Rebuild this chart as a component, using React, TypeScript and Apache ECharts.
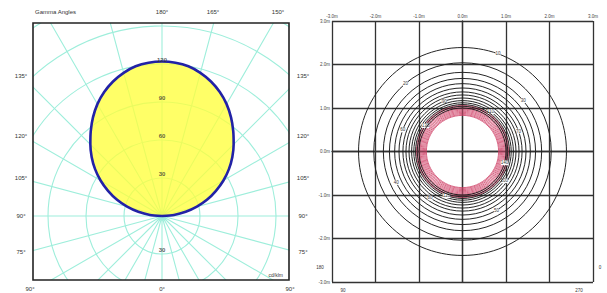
import React, { useEffect, useRef } from "react";
import * as echarts from "echarts";

// ---- Left panel: luminous intensity distribution (cd/klm) ----
const gammaAngles = [90, 95, 100, 105, 110, 115, 120, 125, 130, 135, 140, 145, 150, 155, 160, 165, 170, 175, 180];
const intensityC0 = [0, 9.5, 19, 28.5, 38, 47, 56, 64.5, 72.5, 80, 87.5, 95, 102, 108, 113, 117, 120, 121.5, 122];
const intensityC180 = [0, 9.5, 19, 28.5, 38, 47, 56, 64.5, 72.5, 80, 87.5, 95, 102, 108, 113, 117, 120, 121.5, 122];
const radiusLabelsUp = [30, 60, 90, 120];
const radiusLabelsDown = [30];
const topAngleLabels = ["180°", "165°", "150°"];
const sideAngleLabels = ["135°", "120°", "105°", "90°", "75°"];
const bottomAngleLabels = ["90°", "0°", "90°"];

// ---- Right panel: isolux contours (lux), radius in metres ----
const isoluxValues = [10, 20, 30, 40, 50, 60, 70, 80, 90, 100, 110, 120, 130, 140];
const isoluxRadii = [2.39, 2.04, 1.82, 1.68, 1.56, 1.46, 1.37, 1.3, 1.23, 1.17, 1.12, 1.08, 1.04, 1.0];
const isoluxHighValues = [150, 160, 170, 180, 190, 200, 210, 220, 230, 240];
const isoluxHighRadii = [1.06, 1.03, 1.0, 0.975, 0.95, 0.925, 0.9, 0.875, 0.85, 0.83];
const distanceTicks = [-3, -2, -1, 0, 1, 2, 3];
const planeLabels = ["180", "90", "0", "270"];

const FONT = "Liberation Sans, Arial, sans-serif";
const CYAN = "#9eeedb";

// layout-only constants
const sideLabelY = [76, 136, 178, 216, 252];
const topLabelX = [162, 213, 278];
const bottomLabelX = [30, 162, 290];
const contourLabelAngles = [70, 130, 40, 205, 300, 160, 20, 235, 110, 325, 55, 250, 145, 345];
const planeLabelPos = [[320, 267], [343, 290], [600, 267], [579, 290]];

function buildOption() {
  // polar data [radius, angle]; angle 0 = up, clockwise
  const curve: number[][] = [];
  for (let i = 0; i < gammaAngles.length; i++) curve.push([intensityC180[i], 180 + gammaAngles[i]]);
  for (let i = gammaAngles.length - 1; i >= 0; i--) curve.push([intensityC0[i], 180 - gammaAngles[i]]);

  const radLabels = [
    ...radiusLabelsUp.map((r) => [r, 0]),
    ...radiusLabelsDown.map((r) => [r, 180]),
  ];

  const contourData = [
    ...isoluxHighValues.map((v, i) => [v, isoluxHighRadii[i], 1, i]),
    ...isoluxValues.map((v, i) => [v, isoluxRadii[i], 0, i]),
  ];

  const txt = (text: string, x: number, y: number, size = 6, align = "center", z = 12) => ({
    type: "text",
    x,
    y,
    z,
    style: { text, fontSize: size, fill: "#333", align, verticalAlign: "middle", fontFamily: FONT },
  });

  const graphics: any[] = [
    { type: "rect", z: 10, shape: { x: 0, y: 0, width: 33, height: 293 }, style: { fill: "#fff" } },
    { type: "rect", z: 10, shape: { x: 0, y: 0, width: 290, height: 23 }, style: { fill: "#fff" } },
    { type: "rect", z: 10, shape: { x: 0, y: 280, width: 290, height: 13 }, style: { fill: "#fff" } },
    { type: "rect", z: 10, shape: { x: 289.5, y: 0, width: 318, height: 293 }, style: { fill: "#fff" } },
    {
      type: "rect",
      z: 11,
      shape: { x: 33, y: 23, width: 256, height: 257 },
      style: { fill: "none", stroke: "#222", lineWidth: 1.6 },
    },
    txt("Gamma Angles", 35, 12, 6, "left"),
    txt("cd/klm", 283, 275, 5, "right"),
  ];
  topAngleLabels.forEach((t, i) => graphics.push(txt(t, topLabelX[i], 12)));
  sideAngleLabels.forEach((t, i) => {
    graphics.push(txt(t, 21, sideLabelY[i]));
    graphics.push(txt(t, 303, sideLabelY[i]));
  });
  bottomAngleLabels.forEach((t, i) => graphics.push(txt(t, bottomLabelX[i], 289)));
  planeLabels.forEach((t, i) => graphics.push(txt(t, planeLabelPos[i][0], planeLabelPos[i][1], 4.5, "center", 25)));

  return {
    animation: false,
    backgroundColor: "#fff",
    textStyle: { fontFamily: FONT },
    polar: { center: [162, 216], radius: 228 },
    angleAxis: {
      type: "value",
      min: 0,
      max: 360,
      interval: 15,
      startAngle: 90,
      clockwise: true,
      z: 1,
      axisLine: { show: false },
      axisTick: { show: false },
      axisLabel: { show: false },
      splitLine: { show: true, lineStyle: { color: CYAN, width: 1.1 } },
    },
    radiusAxis: {
      type: "value",
      min: 0,
      max: 180,
      interval: 30,
      z: 1,
      axisLine: { show: false },
      axisTick: { show: false },
      axisLabel: { show: false },
      splitLine: { show: true, lineStyle: { color: CYAN, width: 1.1 } },
    },
    grid: { left: 332, top: 21, width: 261, height: 261 },
    xAxis: {
      type: "value",
      position: "top",
      min: -3,
      max: 3,
      interval: 1,
      z: 20,
      axisLine: { show: true, lineStyle: { color: "#333", width: 1.3 } },
      axisTick: { show: false },
      axisLabel: {
        fontSize: 4.5,
        color: "#444",
        margin: 2,
        formatter: (v: number) => (distanceTicks.includes(v) ? v.toFixed(1) + "m" : ""),
      },
      splitLine: { show: true, lineStyle: { color: "#333", width: 1.3 } },
    },
    yAxis: {
      type: "value",
      min: -3,
      max: 3,
      interval: 1,
      z: 20,
      axisLine: { show: true, lineStyle: { color: "#333", width: 1.3 } },
      axisTick: { show: false },
      axisLabel: {
        fontSize: 4.5,
        color: "#444",
        margin: 2,
        formatter: (v: number) => (distanceTicks.includes(v) ? v.toFixed(1) + "m" : ""),
      },
      splitLine: { show: true, lineStyle: { color: "#333", width: 1.3 } },
    },
    series: [
      {
        type: "line",
        coordinateSystem: "polar",
        data: curve,
        symbol: "none",
        smooth: 0.2,
        z: 3,
        lineStyle: { color: "#2222a6", width: 2.6 },
        areaStyle: { color: "#ffff3c", opacity: 0.78 },
      },
      {
        type: "scatter",
        coordinateSystem: "polar",
        data: radLabels,
        symbolSize: 0,
        z: 6,
        zlevel: 0,
        label: {
          show: true,
          position: "top",
          distance: 1,
          fontSize: 6,
          color: "#333",
          fontWeight: "bold",
          formatter: (p: any) => String(p.value[0]),
        },
      },
      {
        type: "custom",
        coordinateSystem: "cartesian2d",
        z: 21,
        data: contourData,
        encode: { x: -1, y: -1 },
        renderItem: (params: any, api: any) => {
          const r = api.value(1);
          const red = api.value(2) === 1;
          const idx = api.value(3);
          const c = api.coord([0, 0]);
          const s = api.size([r, r]);
          const children: any[] = [
            {
              type: "ellipse",
              shape: { cx: c[0], cy: c[1], rx: s[0], ry: s[1] },
              style: {
                fill: "none",
                stroke: red ? "#d0456a" : "#1a1a1a",
                lineWidth: red ? 0.9 : 0.95,
                opacity: red ? 0.9 : 1,
              },
            },
          ];
          if (!red) {
            const a = (contourLabelAngles[idx] * Math.PI) / 180;
            children.push({
              type: "text",
              x: c[0] + s[0] * Math.cos(a),
              y: c[1] - s[1] * Math.sin(a),
              style: {
                text: String(api.value(0)),
                fontSize: 4.5,
                fill: "#333",
                align: "center",
                verticalAlign: "middle",
                fontFamily: FONT,
                backgroundColor: "#fff",
              },
            });
          }
          return { type: "group", children };
        },
      },
    ],
    graphic: { elements: graphics },
  };
}

export default function App() {
  const ref = useRef<HTMLDivElement>(null);
  useEffect(() => {
    document.body.style.margin = "0";
    const chart = echarts.init(ref.current!, null, { renderer: "svg" });
    chart.setOption(buildOption() as any);
    return () => chart.dispose();
  }, []);
  return <div ref={ref} style={{ width: 607, height: 293 }} />;
}
